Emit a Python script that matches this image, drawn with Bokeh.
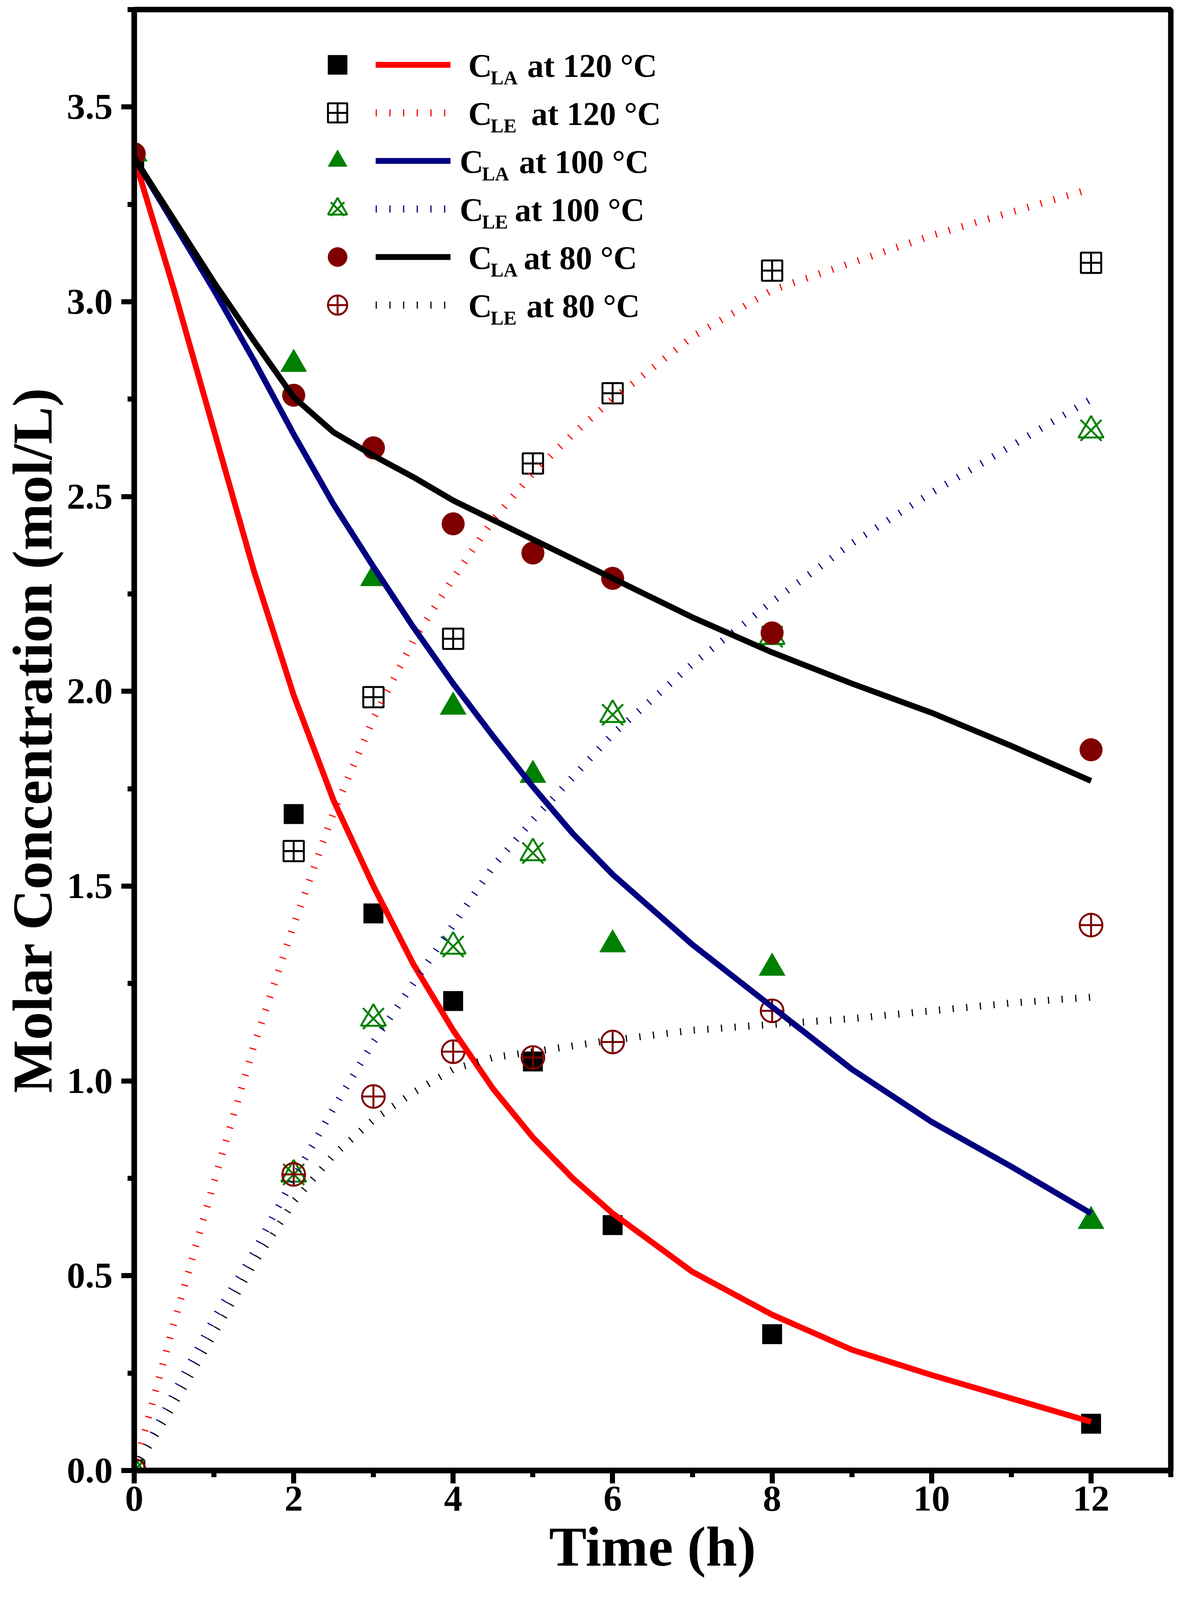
from bokeh.plotting import figure
from bokeh.models import Range1d, FixedTicker, PrintfTickFormatter, Legend, LegendItem, Label
from bokeh.core.properties import value
from bokeh.embed import file_html
from bokeh.resources import INLINE

### Données expérimentales (mol/L)
t_exp = [0, 2, 3, 4, 5, 6, 8, 12]
cla_120 = [3.37, 1.685, 1.43, 1.205, 1.05, 0.63, 0.35, 0.12]
cle_120 = [0.0, 1.59, 1.985, 2.135, 2.585, 2.765, 3.08, 3.10]
cla_100 = [3.38, 2.84, 2.29, 1.96, 1.785, 1.35, 1.29, 0.64]
cle_100 = [0.0, 0.76, 1.16, 1.345, 1.585, 1.94, 2.14, 2.67]
cla_80 = [3.38, 2.76, 2.625, 2.43, 2.355, 2.29, 2.15, 1.85]
cle_80 = [0.0, 0.76, 0.96, 1.075, 1.06, 1.10, 1.18, 1.40]

### Courbes du modèle
t_fit = [0, 0.5, 1, 1.5, 2, 2.5, 3, 3.5, 4, 4.5, 5, 5.5, 6, 7, 8, 9, 10, 11, 12]
fit_la_120 = [3.37, 3.03, 2.67, 2.31, 1.99, 1.72, 1.50, 1.30, 1.13, 0.98, 0.855, 0.75, 0.66,
              0.51, 0.40, 0.31, 0.245, 0.185, 0.125]
fit_le_120 = [0.0, 0.38, 0.74, 1.09, 1.40, 1.69, 1.93, 2.13, 2.29, 2.44, 2.56, 2.66, 2.75,
              2.91, 3.03, 3.10, 3.17, 3.23, 3.29]
fit_la_100 = [3.37, 3.20, 3.03, 2.85, 2.66, 2.48, 2.32, 2.165, 2.02, 1.885, 1.755, 1.635, 1.53,
              1.35, 1.19, 1.03, 0.895, 0.78, 0.66]
fit_le_100 = [0.0, 0.20, 0.39, 0.56, 0.75, 0.93, 1.10, 1.25, 1.40, 1.55, 1.67, 1.78, 1.89,
              2.07, 2.23, 2.38, 2.51, 2.63, 2.75]
fit_la_80 = [3.37, 3.21, 3.05, 2.90, 2.755, 2.665, 2.605, 2.55, 2.49, 2.44, 2.39, 2.34, 2.29,
             2.19, 2.10, 2.02, 1.945, 1.86, 1.77]
fit_le_80 = [0.0, 0.17, 0.35, 0.53, 0.69, 0.81, 0.90, 0.97, 1.03, 1.06, 1.075, 1.09, 1.105,
             1.13, 1.145, 1.16, 1.18, 1.20, 1.215]

x_ticks = [0, 2, 4, 6, 8, 10, 12]
x_minor = [1, 3, 5, 7, 9, 11, 13]
y_ticks = [0.0, 0.5, 1.0, 1.5, 2.0, 2.5, 3.0, 3.5]
y_minor = [0.25, 0.75, 1.25, 1.75, 2.25, 2.75, 3.25, 3.75]

leg_sub = ["LA", "LE", "LA", "LE", "LA", "LE"]
leg_txt = ["at 120 °C", "at 120 °C", "at 100 °C", "at 100 °C", "at 80 °C", "at 80 °C"]

FONT = "Liberation Serif"
GREEN = "#008000"
MAROON = "#800000"
NAVY = "#000080"

p = figure(width=3045, height=4080, x_range=Range1d(0, 13), y_range=Range1d(0, 3.75),
           output_backend="svg", toolbar_location=None,
           min_border_left=340, min_border_right=49, min_border_top=24, min_border_bottom=316)

p.xgrid.visible = False
p.ygrid.visible = False
p.outline_line_color = "black"
p.outline_line_width = 14
p.outline_line_alpha = 1

p.xaxis.ticker = FixedTicker(ticks=x_ticks, minor_ticks=x_minor)
p.yaxis.ticker = FixedTicker(ticks=y_ticks, minor_ticks=y_minor)
p.yaxis.formatter = PrintfTickFormatter(format="%.1f")

for ax in [p.xaxis, p.yaxis]:
    ax.axis_line_width = 14
    ax.major_tick_in = 0
    ax.major_tick_out = 33
    ax.minor_tick_in = 0
    ax.minor_tick_out = 17
    ax.major_tick_line_width = 13
    ax.minor_tick_line_width = 13
    ax.major_label_text_font = FONT
    ax.major_label_text_font_style = "bold"
    ax.major_label_text_font_size = "94px"
    ax.major_label_text_color = "black"
    ax.axis_label_text_font = FONT
    ax.axis_label_text_font_style = "bold"
    ax.axis_label_text_font_size = "144px"
    ax.axis_label_text_color = "black"

p.xaxis.major_label_standoff = 8
p.yaxis.major_label_standoff = 22
p.xaxis.axis_label = "Time (h)"
p.xaxis.axis_label_standoff = 10
p.yaxis.axis_label = "Molar Concentration (mol/L)"
p.yaxis.axis_label_standoff = 5

# points
r_sq = p.scatter(t_exp, cla_120, marker="square", size=50, color="black")
r_sqx = p.scatter(t_exp, cle_120, marker="square_cross", size=52, fill_color=None,
                  line_color="black", line_width=5)
r_tri = p.scatter(t_exp, cla_100, marker="triangle", size=67, color=GREEN)
r_tro = p.scatter(t_exp, cle_100, marker="triangle", size=64, fill_color=None,
                  line_color=GREEN, line_width=5)
r_trx = p.scatter(t_exp, cle_100, marker="x", size=76, line_color=GREEN, line_width=5)
r_ci = p.scatter(t_exp, cla_80, marker="circle", size=58, color=MAROON)
r_cix = p.scatter(t_exp, cle_80, marker="circle_cross", size=58, fill_color=None,
                  line_color=MAROON, line_width=5)

# courbes
DOT = "3 32"
l1 = p.line(t_fit, fit_la_120, line_color="red", line_width=15, line_join="round")
l2 = p.line(t_fit, fit_le_120, line_color="red", line_width=18, line_dash=DOT)
l3 = p.line(t_fit, fit_la_100, line_color=NAVY, line_width=15, line_join="round")
l4 = p.line(t_fit, fit_le_100, line_color=NAVY, line_width=18, line_dash=DOT)
l5 = p.line(t_fit, fit_la_80, line_color="black", line_width=15, line_join="round")
l6 = p.line(t_fit, fit_le_80, line_color="black", line_width=18, line_dash=DOT)

# légende : marqueurs et traits dans deux colonnes, texte avec indices à part
def make_legend(groups, x, glyph_w):
    leg = Legend(items=[LegendItem(label=value(" "), renderers=g) for g in groups],
                 location=(x, 2922), orientation="vertical",
                 glyph_width=glyph_w, glyph_height=123, label_height=20, label_width=0,
                 spacing=0, padding=0, margin=0, label_standoff=0,
                 label_text_font_size="10px", background_fill_alpha=0,
                 border_line_alpha=0)
    p.add_layout(leg)

make_legend([[r_sq], [r_sqx], [r_tri], [r_tro, r_trx], [r_ci], [r_cix]], 459, 123)
make_legend([[l1], [l2], [l3], [l4], [l5], [l6]], 618, 192)

c_x = [855, 855, 833, 833, 855, 855]
txt_x = [1006, 1016, 985, 974, 997, 1004]
for i in range(6):
    for txt, xx, yy, fs in [("C", c_x[i], 3596 - 123 * i, "84px"),
                            (leg_sub[i], c_x[i] + 57, 3566 - 123 * i, "50px"),
                            (leg_txt[i], txt_x[i], 3596 - 123 * i, "84px")]:
        p.add_layout(Label(x=xx, y=yy, x_units="screen", y_units="screen", text=txt,
                           text_font=FONT, text_font_style="bold", text_font_size=fs,
                           text_color="black", text_align="left",
                           text_baseline="alphabetic"))

open("out.html", "w").write(file_html(p, INLINE))
